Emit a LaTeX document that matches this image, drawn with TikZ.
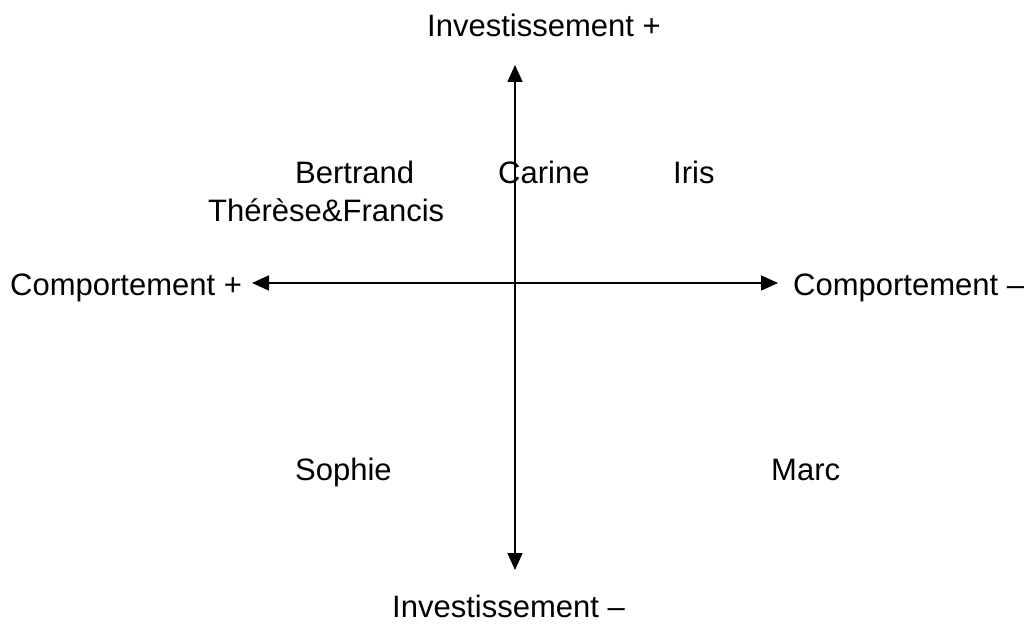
\documentclass[tikz,border=0pt]{standalone}
\usepackage{fontspec}
\setmainfont{Liberation Sans}
\usetikzlibrary{arrows.meta}
\tikzset{
    lbl/.style={inner sep=0pt, anchor=base west, font=\fontsize{31}{37}\selectfont},
    axe/.style={line width=1.6pt, {Triangle[length=17pt,width=15pt]}-{Triangle[length=17pt,width=15pt]}}
}
\begin{document}
\begin{tikzpicture}[x=1pt, y=-1pt]
        \useasboundingbox (0, 0) rectangle (1035, 628);
        \coordinate (haut) at (515, 65);
        \coordinate (bas) at (515, 570);
        \coordinate (gauche) at (252, 283);
        \coordinate (droite) at (778, 283);
        \draw[axe] (gauche) -- (droite);
        \draw[axe] (bas) -- (haut);
        \node[lbl] (invp) at (427, 37) {Investissement +};
        \node[lbl] (invm) at (392, 617) {Investissement --};
        \node[lbl] (compp) at (10, 295) {Comportement +};
        \node[lbl] (compm) at (793, 295) {Comportement --};
        \node[lbl] (bertrand) at (295, 184) {Bertrand};
        \node[lbl] (carine) at (498, 184) {Carine};
        \node[lbl] (iris) at (673, 184) {Iris};
        \node[lbl] (therese) at (208, 222) {Thérèse\&Francis};
        \node[lbl] (sophie) at (295, 480) {Sophie};
        \node[lbl] (marc) at (771, 480) {Marc};
    \end{tikzpicture}
\end{document}
